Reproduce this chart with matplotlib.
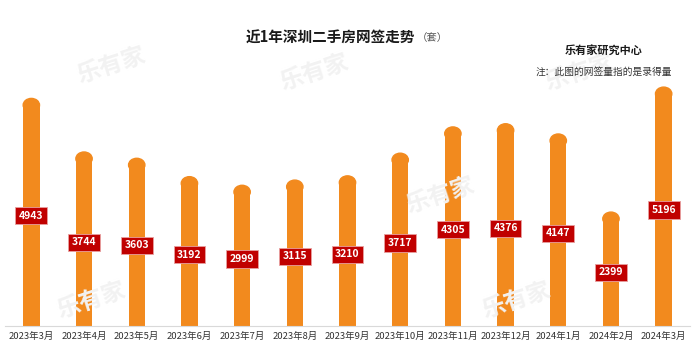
import matplotlib
matplotlib.use('Agg')
import matplotlib.pyplot as plt
from matplotlib.patches import Ellipse

plt.rcParams['font.family'] = ['Noto Sans CJK SC', 'DejaVu Sans']

months = ['2023年3月', '2023年4月', '2023年5月', '2023年6月', '2023年7月', '2023年8月',
          '2023年9月', '2023年10月', '2023年11月', '2023年12月', '2024年1月', '2024年2月',
          '2024年3月']
deals = [4943, 3744, 3603, 3192, 2999, 3115, 3210, 3717, 4305, 4376, 4147, 2399, 5196]

bar_color = '#F28A1E'
label_color = '#C00000'

fig = plt.figure(figsize=(6.98, 3.62), dpi=100)
ax = fig.add_axes([5 / 698, 1 - 326 / 362, 685 / 698, 286 / 362])

# faint watermarks
for wx, wy in [(0.16, 0.82), (0.45, 0.80), (0.83, 0.80), (0.63, 0.46),
               (0.13, 0.17), (0.74, 0.17)]:
    fig.text(wx, wy, '乐有家', fontsize=17, color='#F2F2F2', rotation=18,
             ha='center', va='center', fontweight='bold', zorder=0)

x = list(range(len(months)))
w = 0.31
ax.bar(x, deals, width=w, color=bar_color, zorder=2)
for xi, v in zip(x, deals):
    ax.add_patch(Ellipse((xi, v), w, 300, color=bar_color, zorder=2))
    ax.text(xi, v / 2, str(v), ha='center', va='center', fontsize=7.5,
            fontweight='bold', color='white', zorder=3,
            bbox=dict(boxstyle='square,pad=0.35', fc=label_color, ec='#E8A0A0', lw=0.6))

ax.set_xlim(-0.5, len(months) - 0.5)
ax.set_ylim(0, 6400)
ax.set_xticks(x)
ax.set_xticklabels(months, fontsize=6.8, color='#333333')
ax.tick_params(axis='x', length=0, pad=4)
ax.set_yticks([])
for s in ['top', 'right', 'left']:
    ax.spines[s].set_visible(False)
ax.spines['bottom'].set_color('#D9D9D9')
ax.set_facecolor('none')

fig.text(0.352, 0.895, '近1年深圳二手房网签走势', fontsize=10.5, fontweight='bold',
         color='#1a1a1a', ha='left', va='center')
fig.text(0.597, 0.895, '（套）', fontsize=7.5, color='#555555', ha='left', va='center')
fig.text(0.865, 0.862, '乐有家研究中心', fontsize=8, fontweight='bold',
         color='#1a1a1a', ha='center', va='center')
fig.text(0.963, 0.802, '注：此图的网签量指的是录得量', fontsize=7, color='#333333',
         ha='right', va='center')

fig.savefig('out.png', dpi=100)
